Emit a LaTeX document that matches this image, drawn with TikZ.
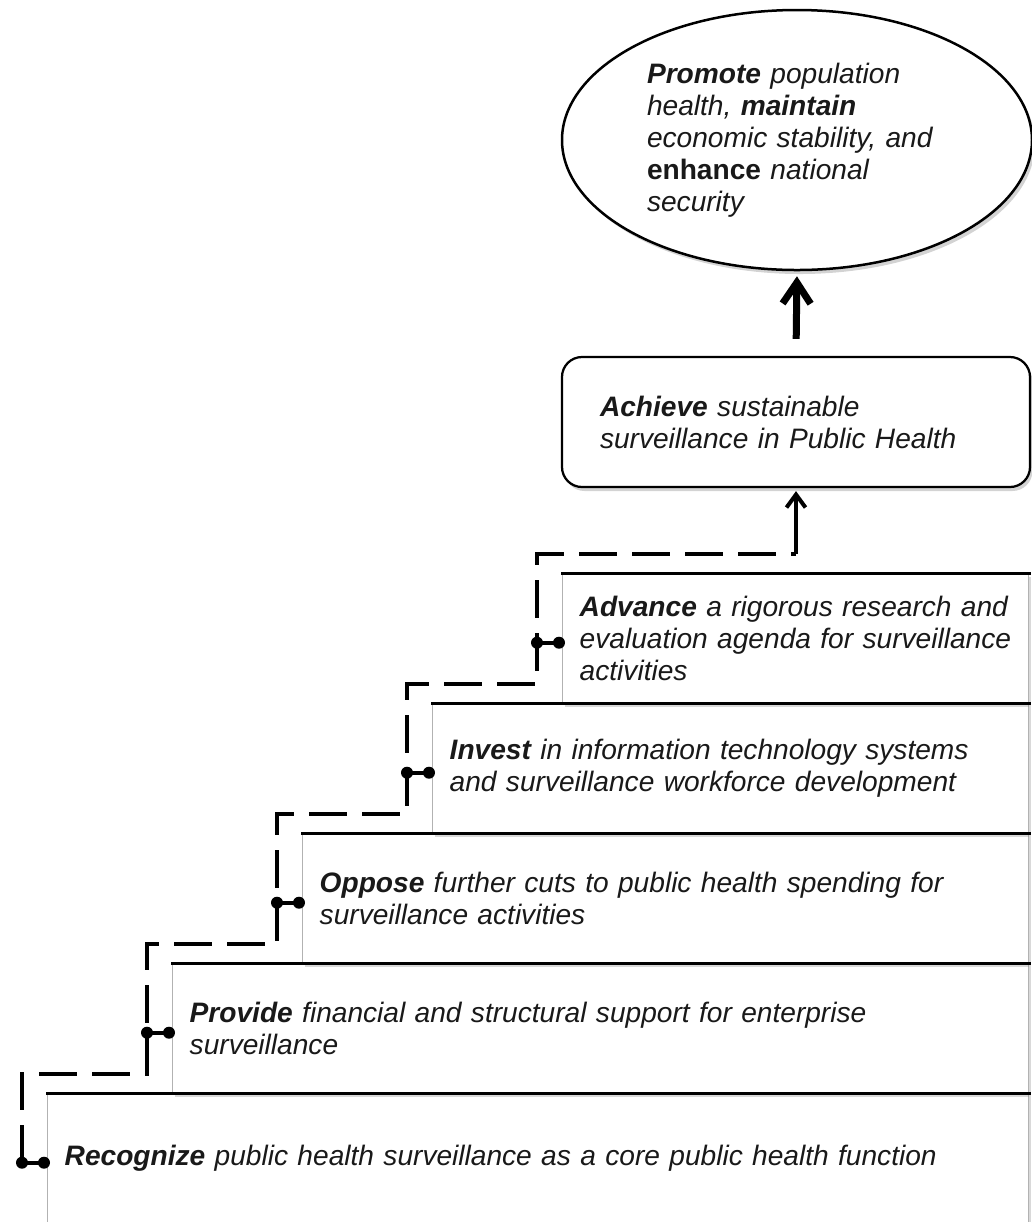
\documentclass[tikz,border=0pt]{standalone}
\usepackage{fontspec}
\setmainfont{Liberation Sans}
\usetikzlibrary{positioning,shapes.geometric,shadows,arrows.meta}

\begin{document}
\begin{tikzpicture}[
    x=0.2mm, y=-0.2mm,
    font=\itshape\fontsize{16pt}{18.2pt}\selectfont,
    text=black!90,
    stepbox/.style={
        draw=gray!60,
        fill=white,
        line width=0.8pt,
        anchor=north west,
        align=left,
        minimum height=26mm,
        inner xsep=3.4mm,
        inner ysep=0,
        drop shadow={opacity=0.3, shadow xshift=0.5mm, shadow yshift=-0.6mm}
    },
    goalbox/.style={
        draw=black,
        fill=white,
        line width=0.45mm,
        rounded corners=4mm,
        align=left,
        minimum height=26mm,
        inner xsep=7.6mm,
        inner ysep=0,
        drop shadow={opacity=0.35, shadow xshift=0.5mm, shadow yshift=-0.8mm}
    },
    visionbox/.style={
        ellipse,
        draw=black,
        fill=white,
        line width=0.5mm,
        align=left,
        minimum width=94mm,
        minimum height=52mm,
        inner sep=0,
        drop shadow={opacity=0.35, shadow xshift=0.6mm, shadow yshift=-0.8mm}
    },
    topline/.style={line width=0.6mm, line cap=rect},
    stairpath/.style={line width=0.8mm, dash pattern=on 7.6mm off 3mm},
    dumbbell/.style={line width=0.8mm},
    smallarrow/.style={line width=0.8mm, -{Straight Barb[length=2.6mm, width=3.8mm]}, shorten >=0.6mm},
    bigarrow/.style={line width=1.4mm, -{Straight Barb[length=4.2mm, width=5.6mm]}, shorten <=3.4mm, shorten >=1mm}
]

\useasboundingbox (0,0) rectangle (1032,1222);

\node[stepbox, text width=189.4mm] (recognize) at (47,1093)
    {\textbf{Recognize} public health surveillance as a core public health function};
\node[stepbox, text width=164.4mm] (provide) at (172,963)
    {\textbf{Provide} financial and structural support for enterprise\\ surveillance};
\node[stepbox, text width=138.4mm] (oppose) at (302,833)
    {\textbf{Oppose} further cuts to public health spending for\\ surveillance activities};
\node[stepbox, text width=112.4mm] (invest) at (432,703)
    {\textbf{Invest} in information technology systems\\ and surveillance workforce development};
\node[stepbox, text width=86.4mm] (advance) at (562,573)
    {\textbf{Advance} a rigorous research and\\ evaluation agenda for surveillance\\ activities};

\node[goalbox, text width=78.4mm] (achieve) at (796,422)
    {\textbf{Achieve} sustainable\\ surveillance in Public Health};
\node[visionbox, text width=60mm] (vision) at (797,140)
    {\textbf{Promote} population\\ health, \textbf{maintain}\\ economic stability, and\\ {\bfseries\upshape enhance} national\\ security};

\foreach \s in {recognize, provide, oppose, invest, advance}{
    \draw[topline] (\s.north west) -- (\s.north east);
    \coordinate[left=0.6mm of \s.west, yshift=-0.8mm] (\s-r);
    \coordinate[left=4.4mm of \s-r] (\s-l);
    \coordinate[above=3.8mm of \s.north west] (\s-t);
}
\coordinate (turn) at (achieve.south |- advance-t);

\draw[stairpath] (recognize-l) |- (provide-l |- recognize-t) |- (oppose-l |- provide-t)
    |- (invest-l |- oppose-t) |- (advance-l |- invest-t) |- (turn);

\foreach \s in {recognize, provide, oppose, invest, advance}{
    \draw[dumbbell] (\s-l) -- (\s-r);
    \fill (\s-l) circle (1.2mm) (\s-r) circle (1.2mm);
}

\draw[smallarrow] (turn) -- (achieve.south);
\draw[bigarrow] (achieve.north) -- (vision.south);

\end{tikzpicture}
\end{document}
